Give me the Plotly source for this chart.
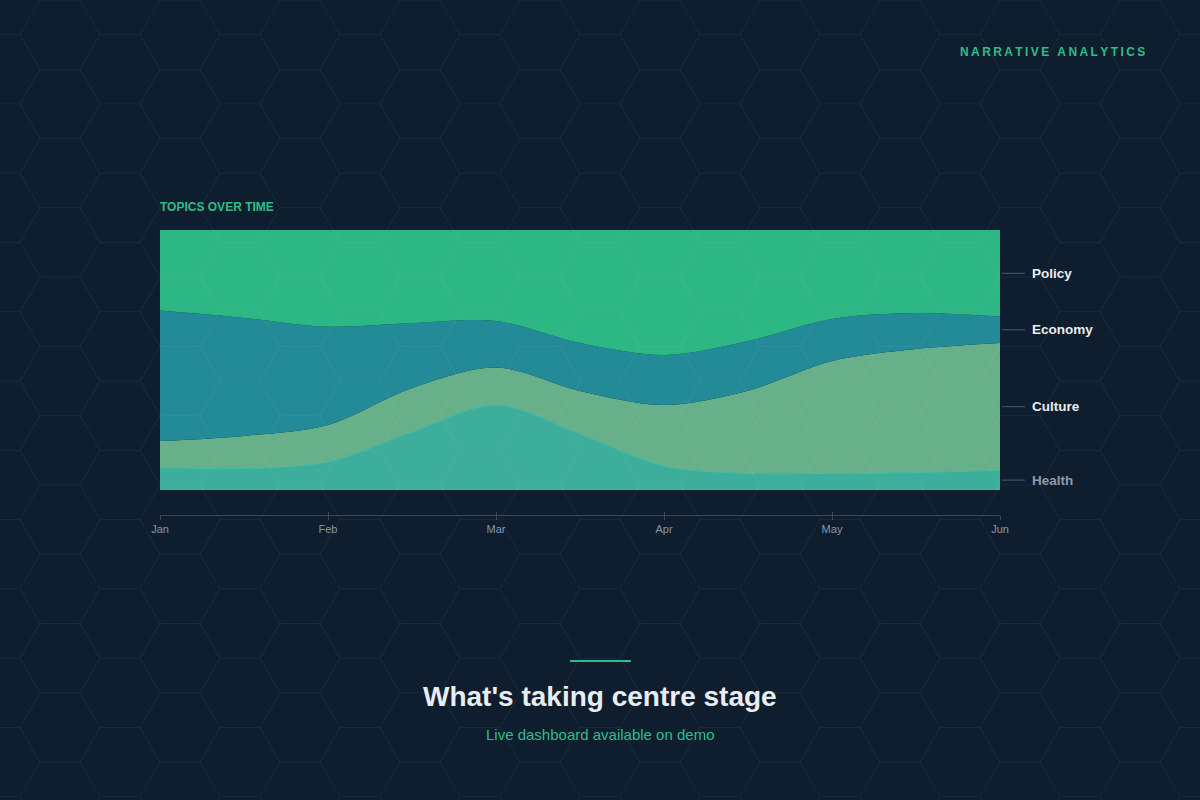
import math
import plotly.graph_objects as go

# ---------------- data ----------------
months = ["Jan", "Feb", "Mar", "Apr", "May", "Jun"]
month_pos = [0, 1, 2, 3, 4, 5]
period = [0, 0.5, 1, 1.5, 2, 2.5, 3, 3.5, 4, 4.5, 5]   # half-month steps

health = [8.6, 8.3, 10.8, 22.3, 32.7, 21.5, 9.2, 6.4, 6.4, 6.7, 7.6]
culture = [10.2, 12.5, 14.2, 16.9, 14.4, 16.6, 23.5, 31.8, 43.2, 47.5, 48.9]
economy = [50.2, 45.4, 37.8, 25.0, 17.9, 18.4, 19.2, 19.1, 16.2, 13.9, 10.2]
policy = [31.0, 33.8, 37.2, 35.8, 35.0, 43.5, 48.1, 42.7, 34.2, 31.9, 33.3]

series_names = ["Health", "Culture", "Economy", "Policy"]
series_values = [health, culture, economy, policy]
series_colors = ["#3dae9c", "#68b08a", "#238a98", "#2db784"]
label_colors = ["#8c9bad", "#e8edf2", "#e8edf2", "#e8edf2"]

W, H = 1200, 800
BG = "#0f1e2e"
GREEN = "#2ebd88"
FONT = "Liberation Sans, Arial, sans-serif"


def px(x):
    return x / W


def py(y):
    return 1 - y / H


fig = go.Figure()

for name, vals, col in zip(series_names, series_values, series_colors):
    fig.add_trace(go.Scatter(
        x=period, y=vals, name=name, mode="lines",
        stackgroup="one", groupnorm="percent",
        line=dict(width=1 if name == "Health" else 0,
                  color="#45c2a8" if name == "Health" else col,
                  shape="spline", smoothing=0.9),
        fillcolor=col, hoverinfo="skip", showlegend=False,
    ))

# invisible trace to carry the overlay axis (inner tick halves)
fig.add_trace(go.Scatter(x=[0, 5], y=[None, None], xaxis="x3", yaxis="y",
                         mode="lines", showlegend=False, hoverinfo="skip"))

axis_pos = py(515)
fig.update_layout(
    width=W, height=H,
    margin=dict(l=0, r=0, t=0, b=0, autoexpand=False),
    paper_bgcolor=BG, plot_bgcolor="rgba(0,0,0,0)",
    font=dict(family=FONT),
    xaxis=dict(domain=[px(160), px(1000)], range=[0, 5], anchor="free",
               position=axis_pos, showgrid=False, zeroline=False,
               automargin=False,
               showline=True, linecolor="#3a4959", linewidth=1,
               ticks="outside", ticklen=4, tickcolor="#3a4959",
               tickvals=month_pos, ticktext=months,
               tickfont=dict(size=11, color="#8a97a6", family=FONT)),
    xaxis3=dict(overlaying="x", range=[0, 5], anchor="free", position=axis_pos,
                showgrid=False, zeroline=False, showline=False,
                automargin=False,
                ticks="inside", ticklen=3, tickcolor="#3a4959",
                tickvals=month_pos, showticklabels=False),
    yaxis=dict(domain=[py(490), py(230)], range=[0, 100], visible=False,
               automargin=False, showgrid=False, zeroline=False),
)

# ---------------- hexagon background pattern ----------------
R = 40.0
hh = math.sqrt(3) / 2 * R
parts = []
for k in range(-1, 22):
    cx = 60 + 60 * k
    off = hh if k % 2 == 0 else 0.0
    for m in range(-1, 13):
        cy = off + 2 * hh * m
        pts = [(cx - R, cy), (cx - R / 2, cy - hh), (cx + R / 2, cy - hh),
               (cx + R, cy), (cx + R / 2, cy + hh), (cx - R / 2, cy + hh)]
        s = "M{:.4f},{:.4f}".format(px(pts[0][0]), py(pts[0][1]))
        for (a, b) in pts[1:]:
            s += "L{:.4f},{:.4f}".format(px(a), py(b))
        s += "Z"
        parts.append(s)
shapes = [dict(type="path", path="".join(parts), xref="paper", yref="paper",
               line=dict(color="rgba(255,255,255,0.03)", width=1),
               fillcolor="rgba(0,0,0,0)", layer="above")]

# leader lines + labels at band midpoints of the last period
last = [v[-1] for v in series_values]
total = sum(last)
cum = 0.0
annotations = []
for name, v, lc in zip(series_names, last, label_colors):
    mid = (cum + v / 2) / total * 100
    cum += v
    shapes.append(dict(type="line", xref="paper", yref="y",
                       x0=px(1002), x1=px(1025), y0=mid, y1=mid,
                       line=dict(color="#4b5a6a", width=1)))
    annotations.append(dict(text="<b>" + name + "</b>", xref="paper", yref="y",
                            x=px(1030), y=mid, xanchor="left", yanchor="middle",
                            showarrow=False,
                            font=dict(size=13.5, color=lc, family=FONT)))

# accent bar above the title
shapes.append(dict(type="rect", xref="paper", yref="paper",
                   x0=px(570), x1=px(631), y0=py(662), y1=py(660),
                   fillcolor=GREEN, line=dict(width=0)))

thin = "\u2009"
brand = "NARRATIVE ANALYTICS"
brand_spaced = thin.join(list(brand))
annotations += [
    dict(text="<b>" + brand_spaced + "</b>", xref="paper", yref="paper",
         x=px(1147), y=py(52), xanchor="right", yanchor="middle",
         showarrow=False, font=dict(size=12, color=GREEN, family=FONT)),
    dict(text="<b>TOPICS OVER TIME</b>", xref="paper", yref="paper",
         x=px(158), y=py(207), xanchor="left", yanchor="middle",
         showarrow=False, font=dict(size=12, color=GREEN, family=FONT)),
    dict(text="<b>What's taking centre stage</b>", xref="paper", yref="paper",
         x=0.5, y=py(696), xanchor="center", yanchor="middle",
         showarrow=False, font=dict(size=28, color="#e8edf2", family=FONT)),
    dict(text="Live dashboard available on demo", xref="paper", yref="paper",
         x=0.5, y=py(734), xanchor="center", yanchor="middle",
         showarrow=False, font=dict(size=15, color=GREEN, family=FONT)),
]

fig.update_layout(shapes=shapes, annotations=annotations)
fig.write_html(
    "out.html",
    config={"displayModeBar": False},
    post_script=("document.body.style.margin='0';"
                 "document.body.style.overflow='hidden';"),
)
